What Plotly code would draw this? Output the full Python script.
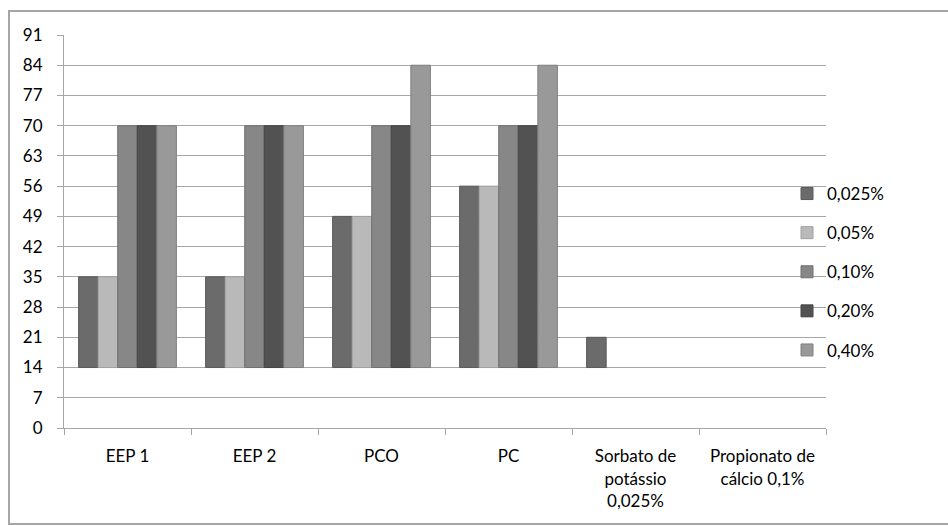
import plotly.graph_objects as go

categories = ["EEP 1", "EEP 2", "PCO", "PC",
              "Sorbato de<br>potássio<br>0,025%", "Propionato de<br>cálcio 0,1%"]
series_names = ["0,025%", "0,05%", "0,10%", "0,20%", "0,40%"]
s_0025 = [35, 35, 49, 56, 21, None]
s_005 = [35, 35, 49, 56, None, None]
s_010 = [70, 70, 70, 70, None, None]
s_020 = [70, 70, 70, 70, None, None]
s_040 = [70, 70, 84, 84, None, None]
baseline = 14
y_ticks = list(range(0, 92, 7))

series_values = [s_0025, s_005, s_010, s_020, s_040]
colors = ["#6b6b6b", "#b9b9b9", "#878787", "#525252", "#999999"]
edges = ["#5a5a5a", "#a0a0a0", "#707070", "#444444", "#808080"]

fig = go.Figure()
for i, (name, vals) in enumerate(zip(series_names, series_values)):
    fig.add_trace(go.Bar(
        x=categories,
        y=[None if v is None else v - baseline for v in vals],
        base=baseline,
        name=name,
        legendgroup=name,
        marker=dict(color=colors[i], line=dict(color=edges[i], width=1)),
        customdata=vals,
        hovertemplate="%{x}: %{customdata}<extra>" + name + "</extra>",
    ))

L, R, T, B = 64, 122, 35, 98
W, H = 948, 526
pw, ph = W - L - R, H - T - B
FONT = "Lato, Open Sans, sans-serif"

fig.update_layout(
    width=W, height=H,
    margin=dict(l=L, r=R, t=T, b=B, pad=0),
    paper_bgcolor="white", plot_bgcolor="white",
    barmode="group", bargap=0.23, bargroupgap=0,
    font=dict(family=FONT, size=17, color="#000000"),
    showlegend=True,
    legend=dict(x=(787 - L) / pw, y=1 - (176 - T) / ph, xanchor="left", yanchor="top",
                traceorder="grouped", tracegroupgap=14, itemwidth=30,
                font=dict(size=17), bgcolor="rgba(0,0,0,0)"),
    xaxis=dict(type="category", tickson="boundaries", ticks="outside", ticklen=6,
               tickcolor="#a6a6a6", showline=True, linecolor="#a6a6a6", linewidth=1,
               showgrid=False, tickfont=dict(size=17), ticklabelstandoff=13),
    yaxis=dict(range=[0, 91], tickvals=y_ticks, ticks="outside", ticklen=6,
               tickcolor="#a6a6a6", showline=True, linecolor="#a6a6a6", linewidth=1,
               showgrid=True, gridcolor="#a6a6a6", gridwidth=1, zeroline=False,
               tickfont=dict(size=17), ticklabelstandoff=11),
    shapes=[dict(type="rect", xref="paper", yref="paper",
                 x0=(9 - L) / pw, x1=(960 - L) / pw,
                 y0=1 - (524 - T) / ph, y1=1 + (T - 11) / ph,
                 line=dict(color="#a6a6a6", width=2), fillcolor="rgba(0,0,0,0)",
                 layer="below")],
)

fig.write_html("out.html")
